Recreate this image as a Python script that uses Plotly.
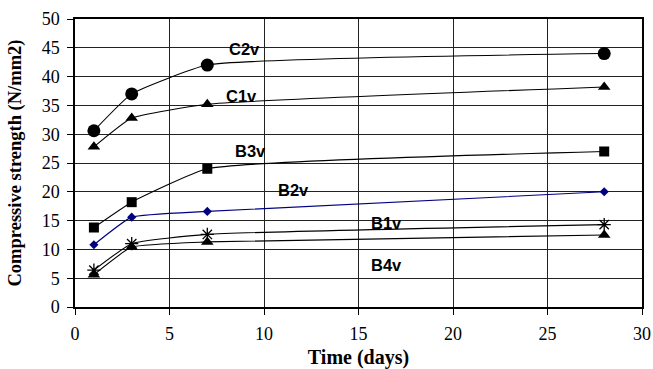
import plotly.graph_objects as go

# Curing age (days)
days = [1, 3, 7, 28]

# Compressive strength per mix (N/mm2)
c2v = [30.6, 37.0, 42.0, 44.0]
c1v = [27.8, 32.8, 35.2, 38.2]
b3v = [13.8, 18.2, 24.0, 27.0]
b2v = [10.8, 15.6, 16.6, 20.0]
b1v = [6.4, 11.0, 12.6, 14.3]
b4v = [5.6, 10.4, 11.3, 12.5]

series = [
    ("C2v", c2v, "circle", 13, "black"),
    ("C1v", c1v, "triangle-up", 11, "black"),
    ("B3v", b3v, "square", 10, "black"),
    ("B2v", b2v, "diamond", 7, "#000080"),
    ("B1v", b1v, "asterisk-open", 11, "black"),
    ("B4v", b4v, "triangle-up", 11, "black"),
]

# Series name labels placed inside the plot
label_names = ["C2v", "C1v", "B3v", "B2v", "B1v", "B4v"]
label_x = [8.95, 8.8, 9.3, 11.55, 16.5, 16.5]
label_y = [44.8, 36.7, 27.0, 20.4, 14.5, 7.3]

fig = go.Figure()
for name, vals, sym, size, col in series:
    fig.add_trace(go.Scatter(
        x=days, y=vals, mode="lines+markers", name=name,
        line=dict(color=col, width=1.1, shape="spline", smoothing=0.4),
        marker=dict(symbol=sym, size=size, color=col,
                    line=dict(color=col, width=1.3 if sym == "asterisk-open" else 0)),
        showlegend=False,
    ))

for t, x, y in zip(label_names, label_x, label_y):
    fig.add_annotation(x=x, y=y, text=t, showarrow=False,
                       font=dict(family="Liberation Sans, Arial", size=16.5,
                                 color="black", weight="bold"))

axis_common = dict(
    showline=True, linecolor="black", linewidth=1.5, mirror=True,
    showgrid=True, gridcolor="#222", gridwidth=1, automargin=False,
    zeroline=False, ticks="outside", ticklen=6, tickcolor="black",
    ticklabeloverflow="allow",
    tickfont=dict(family="Liberation Serif, Times New Roman", size=18, color="black"),
)

fig.update_xaxes(range=[0, 30], dtick=5, **axis_common, ticklabelstandoff=4,
                 title=dict(text="Time (days)",
                            font=dict(family="Liberation Serif, Times New Roman",
                                      size=20, color="black", weight="bold")))
fig.update_yaxes(range=[0, 50], dtick=5, **axis_common, ticklabelstandoff=4,
                 title=dict(text="Compressive strength (N/mm2)",
                            font=dict(family="Liberation Serif, Times New Roman",
                                      size=18.5, color="black", weight="bold")))

fig.update_layout(
    width=653, height=369,
    margin=dict(l=75, r=11, t=19, b=62),
    plot_bgcolor="white", paper_bgcolor="white",
)

fig.write_html("out.html")
